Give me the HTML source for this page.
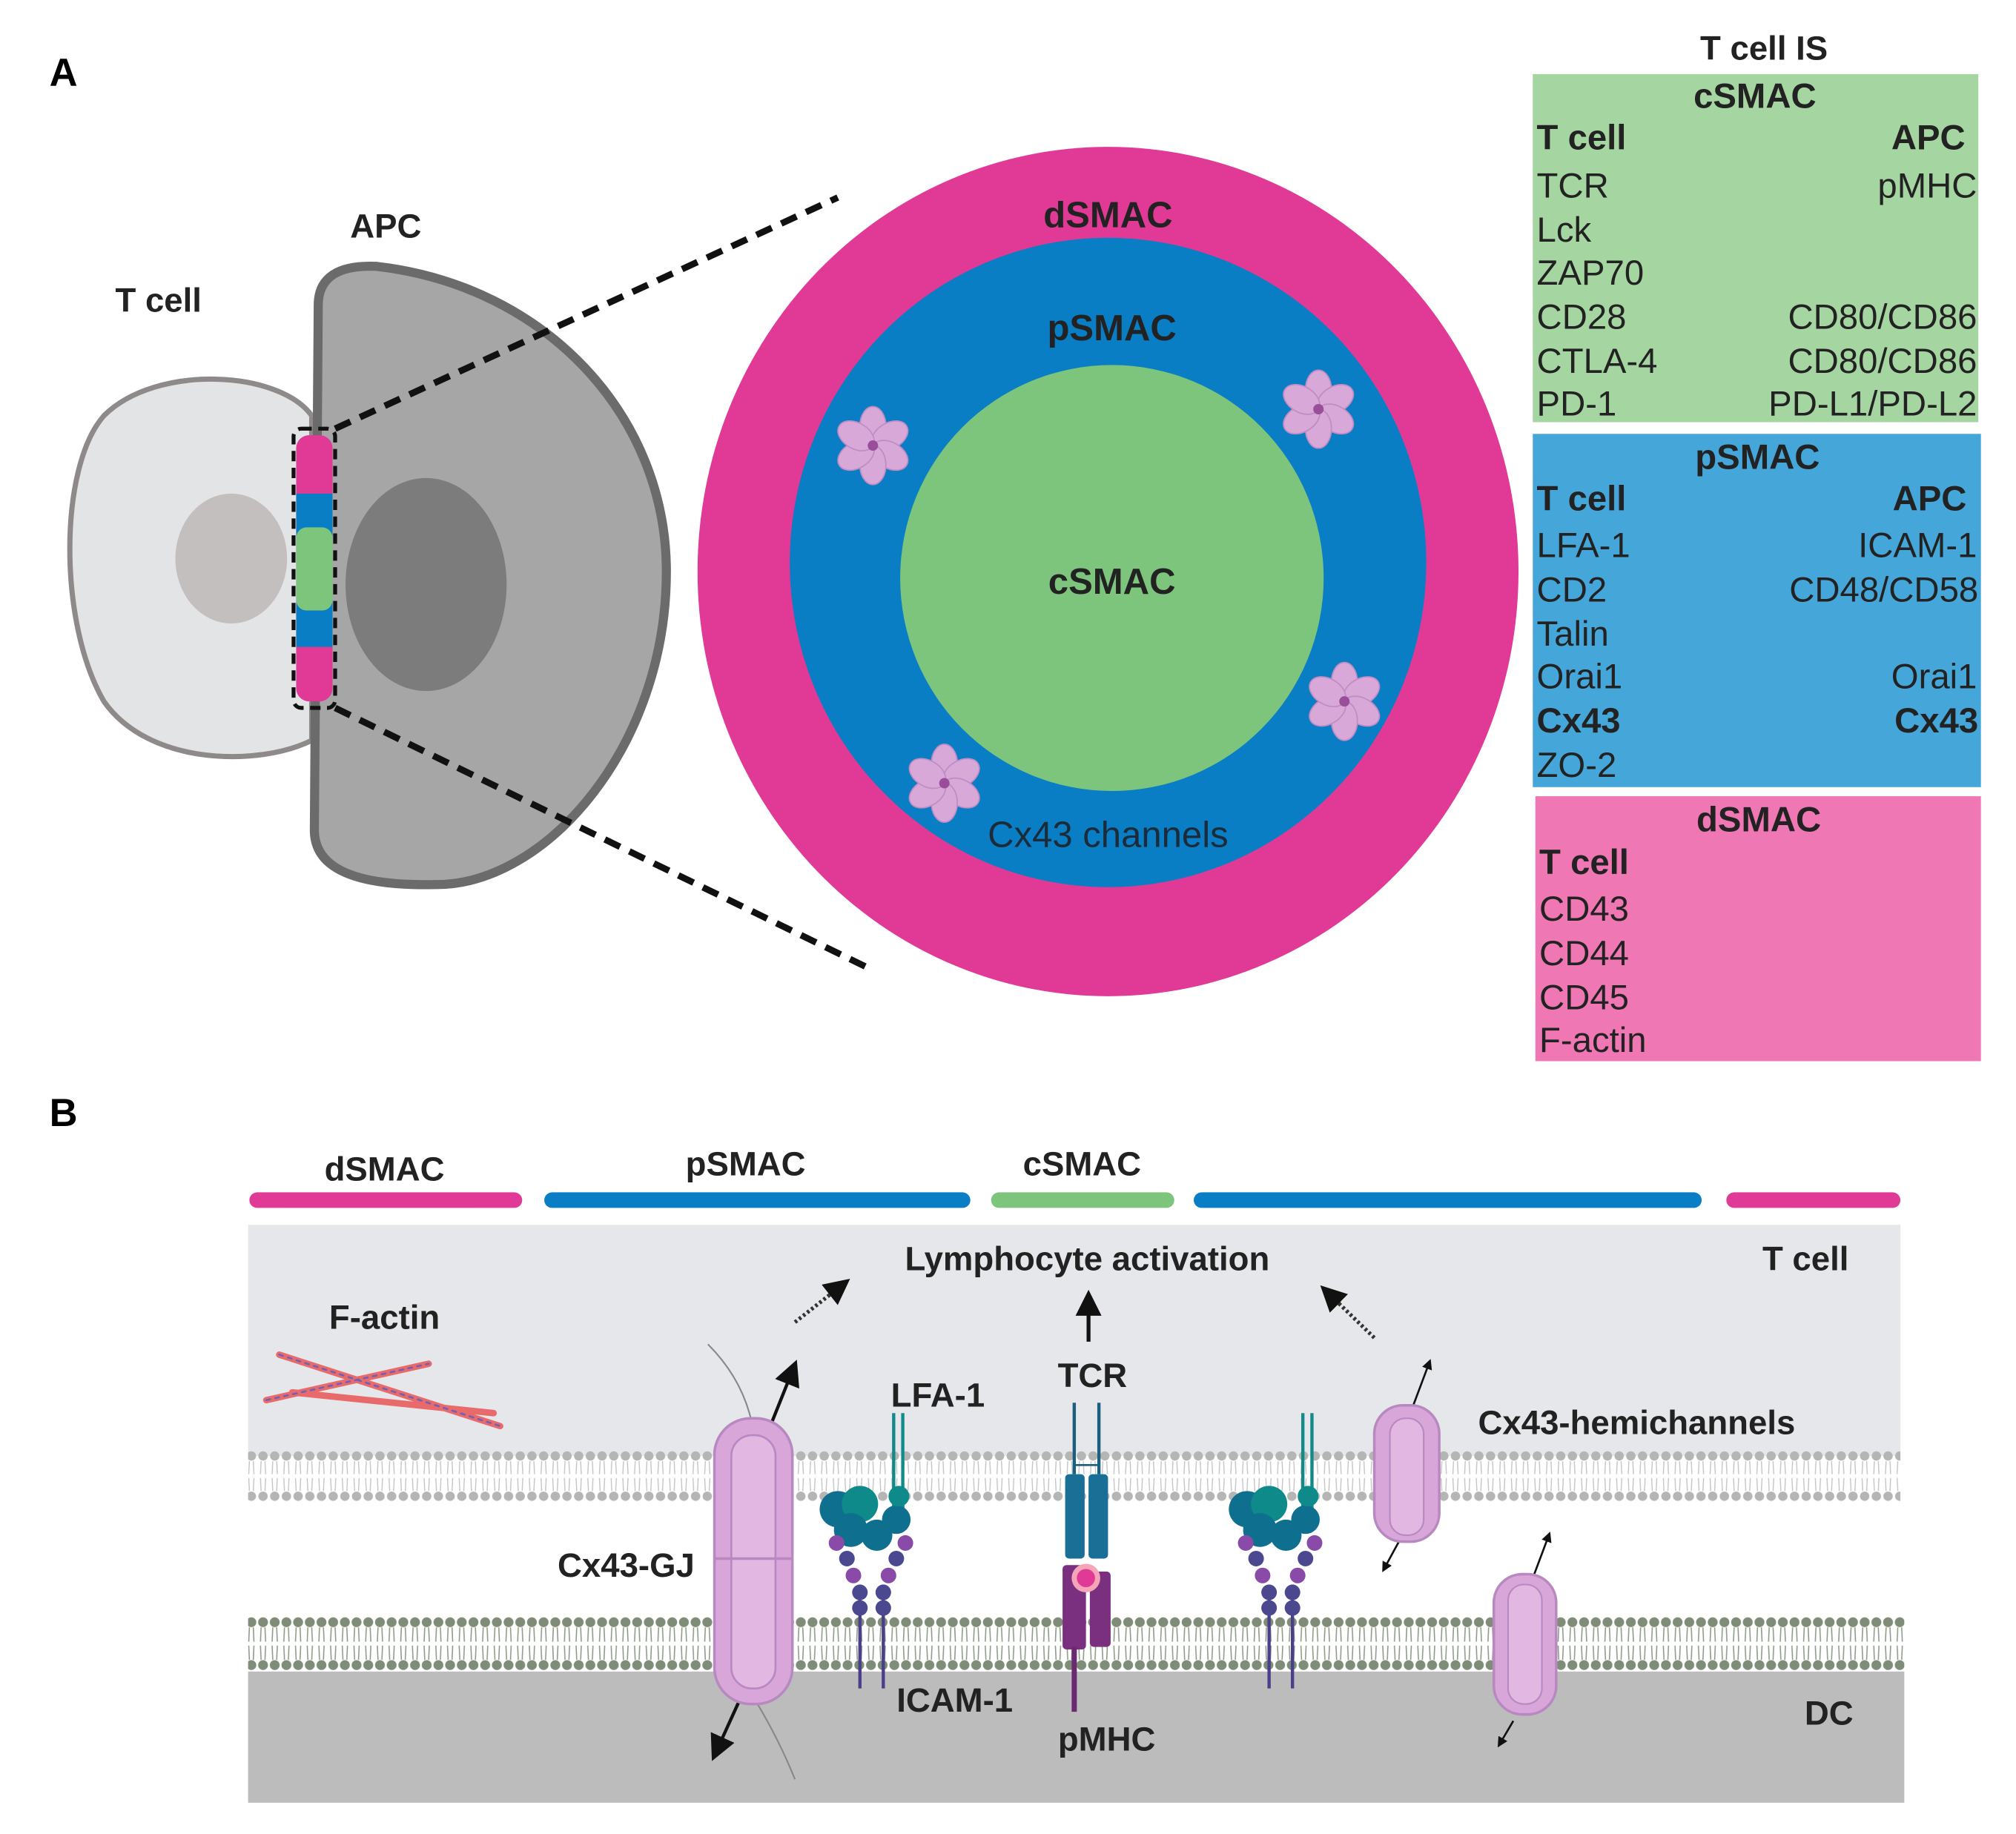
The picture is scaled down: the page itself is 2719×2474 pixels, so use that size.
<!DOCTYPE html>
<html><head><meta charset="utf-8"><style>
html,body{margin:0;padding:0;background:#fff;}
svg{display:block;}
text{font-family:"Liberation Sans",sans-serif;}
.b{font-weight:bold;}
</style></head><body>
<svg width="2719" height="2474" viewBox="0 0 1552 1412" xmlns="http://www.w3.org/2000/svg">
<defs>
<pattern id="memT" x="0" y="1117" width="9" height="40" patternUnits="userSpaceOnUse">
<circle cx="4.5" cy="4" r="3.6" fill="#b5b5b5"/>
<circle cx="4.5" cy="35" r="3.6" fill="#b5b5b5"/>
<path d="M3 8 L2.5 18 M6 8 L6.5 18 M3 31 L2.5 21 M6 31 L6.5 21" stroke="#c4c4c4" stroke-width="0.8" fill="none"/>
</pattern>
<pattern id="memD" x="0" y="1245" width="9" height="42" patternUnits="userSpaceOnUse">
<circle cx="4.5" cy="4" r="3.8" fill="#7f8d78"/>
<circle cx="4.5" cy="37" r="3.8" fill="#7f8d78"/>
<path d="M3 8 L2.5 19 M6 8 L6.5 19 M3 33 L2.5 22 M6 33 L6.5 22" stroke="#8e9a88" stroke-width="0.9" fill="none"/>
</pattern>
<g id="flower">
<g fill="#d8a8d8" stroke="#c08cc4" stroke-width="1">
<ellipse cx="0" cy="-15" rx="10" ry="15"/>
<ellipse cx="0" cy="-15" rx="10" ry="15" transform="rotate(60)"/>
<ellipse cx="0" cy="-15" rx="10" ry="15" transform="rotate(120)"/>
<ellipse cx="0" cy="-15" rx="10" ry="15" transform="rotate(180)"/>
<ellipse cx="0" cy="-15" rx="10" ry="15" transform="rotate(240)"/>
<ellipse cx="0" cy="-15" rx="10" ry="15" transform="rotate(300)"/>
</g>
<circle r="4" fill="#9a4e9a"/>
</g>
<marker id="ah" markerWidth="8" markerHeight="8" refX="4" refY="4" orient="auto" markerUnits="userSpaceOnUse"><path d="M0 0 L8 4 L0 8Z" fill="#111"/></marker>
<marker id="ahB" markerWidth="20" markerHeight="20" refX="8" refY="10" orient="auto" markerUnits="userSpaceOnUse"><path d="M0 0 L20 10 L0 20Z" fill="#111"/></marker>
</defs>

<!-- Part A -->
<text x="38" y="66" class="b" font-size="30">A</text>
<path d="M240,320 C215,285 120,280 80,320 C45,360 45,480 80,540 C115,590 200,590 240,570 Z" fill="#e3e4e5" stroke="#8f8a8a" stroke-width="4"/>
<ellipse cx="178" cy="430" rx="43" ry="50" fill="#c4bfbf"/>
<path d="M245,235 Q245,203 290,205 C420,220 513,320 513,440 C513,575 420,682 335,681 Q243,683 242,640 Z" fill="#a6a6a6" stroke="#6b6b6b" stroke-width="7"/>
<ellipse cx="328" cy="450" rx="62" ry="82" fill="#7c7c7c"/>
<rect x="228" y="335" width="28" height="205" rx="10" fill="#e03a96"/>
<rect x="228" y="380" width="28" height="118" fill="#0a7ec4"/>
<rect x="228" y="406" width="28" height="64" rx="8" fill="#7dc57c"/>
<rect x="226" y="330" width="32" height="215" rx="6" fill="none" stroke="#111" stroke-width="3" stroke-dasharray="8,5"/>
<line x1="258" y1="330" x2="645" y2="152" stroke="#111" stroke-width="5" stroke-dasharray="13,8"/>
<line x1="258" y1="545" x2="668" y2="745" stroke="#111" stroke-width="5" stroke-dasharray="13,8"/>
<text x="122" y="240" class="b" font-size="26" text-anchor="middle" fill="#222">T cell</text>
<text x="297" y="183" class="b" font-size="26" text-anchor="middle" fill="#222">APC</text>

<ellipse cx="853" cy="440" rx="316" ry="327" fill="#e03a96"/>
<ellipse cx="853" cy="433" rx="245" ry="250" fill="#0a7ec4"/>
<ellipse cx="856" cy="445" rx="163" ry="164" fill="#7dc57c"/>
<text x="853" y="175" class="b" font-size="28" text-anchor="middle" fill="#222">dSMAC</text>
<text x="856" y="262" class="b" font-size="28" text-anchor="middle" fill="#222">pSMAC</text>
<text x="856" y="457" class="b" font-size="28" text-anchor="middle" fill="#222">cSMAC</text>
<text x="853" y="652" font-size="28" text-anchor="middle" fill="#1b2b3a">Cx43 channels</text>
<use href="#flower" x="672" y="343"/>
<use href="#flower" x="1015" y="315"/>
<use href="#flower" x="1035" y="540"/>
<use href="#flower" x="727" y="603"/>

<text x="1358" y="46" class="b" font-size="26" text-anchor="middle" fill="#222">T cell IS</text>
<rect x="1180" y="57" width="343" height="268" fill="#a5d5a0"/>
<g font-size="27" fill="#222">
<text x="1351" y="83" class="b" text-anchor="middle">cSMAC</text>
<text x="1183" y="115" class="b">T cell</text><text x="1513" y="115" class="b" text-anchor="end">APC</text>
<text x="1183" y="152">TCR</text><text x="1522" y="152" text-anchor="end">pMHC</text>
<text x="1183" y="186">Lck</text>
<text x="1183" y="219">ZAP70</text>
<text x="1183" y="253">CD28</text><text x="1522" y="253" text-anchor="end">CD80/CD86</text>
<text x="1183" y="287">CTLA-4</text><text x="1522" y="287" text-anchor="end">CD80/CD86</text>
<text x="1183" y="320">PD-1</text><text x="1522" y="320" text-anchor="end">PD-L1/PD-L2</text>
</g>
<rect x="1180" y="334" width="345" height="272" fill="#45a6d9"/>
<g font-size="27" fill="#222">
<text x="1353" y="361" class="b" text-anchor="middle">pSMAC</text>
<text x="1183" y="393" class="b">T cell</text><text x="1514" y="393" class="b" text-anchor="end">APC</text>
<text x="1183" y="429">LFA-1</text><text x="1522" y="429" text-anchor="end">ICAM-1</text>
<text x="1183" y="463">CD2</text><text x="1523" y="463" text-anchor="end">CD48/CD58</text>
<text x="1183" y="497">Talin</text>
<text x="1183" y="530">Orai1</text><text x="1522" y="530" text-anchor="end">Orai1</text>
<text x="1183" y="564" class="b">Cx43</text><text x="1523" y="564" class="b" text-anchor="end">Cx43</text>
<text x="1183" y="598">ZO-2</text>
</g>
<rect x="1182" y="613" width="343" height="204" fill="#ef78b4"/>
<g font-size="27" fill="#222">
<text x="1354" y="640" class="b" text-anchor="middle">dSMAC</text>
<text x="1185" y="673" class="b">T cell</text>
<text x="1185" y="709">CD43</text>
<text x="1185" y="743">CD44</text>
<text x="1185" y="777">CD45</text>
<text x="1185" y="810">F-actin</text>
</g>

<!-- Part B -->
<text x="38" y="867" class="b" font-size="30">B</text>
<g stroke-width="12" stroke-linecap="round">
<line x1="198" y1="924" x2="396" y2="924" stroke="#e03a96"/>
<line x1="425" y1="924" x2="741" y2="924" stroke="#0a7ec4"/>
<line x1="769" y1="924" x2="898" y2="924" stroke="#7dc57c"/>
<line x1="925" y1="924" x2="1304" y2="924" stroke="#0a7ec4"/>
<line x1="1335" y1="924" x2="1457" y2="924" stroke="#e03a96"/>
</g>
<g class="b" font-size="26" fill="#222" text-anchor="middle">
<text x="296" y="909" class="b">dSMAC</text>
<text x="574" y="905" class="b">pSMAC</text>
<text x="833" y="905" class="b">cSMAC</text>
</g>
<rect x="191" y="943" width="1272" height="178" fill="#e5e7ea"/>
<rect x="191" y="1117" width="1272" height="40" fill="url(#memT)"/>
<rect x="191" y="1245" width="1275" height="42" fill="url(#memD)"/>
<rect x="191" y="1287" width="1275" height="101" fill="#bcbcbc"/>

<!-- F-actin -->
<g stroke-width="5" stroke-linecap="round">
<line x1="215" y1="1043" x2="385" y2="1098" stroke="#e86a6a"/>
<line x1="205" y1="1078" x2="330" y2="1050" stroke="#e86a6a"/>
<line x1="225" y1="1072" x2="380" y2="1088" stroke="#e86a6a"/>
<line x1="215" y1="1043" x2="385" y2="1098" stroke="#7060b8" stroke-width="1.5" stroke-dasharray="3,4"/>
<line x1="205" y1="1078" x2="330" y2="1050" stroke="#7060b8" stroke-width="1.5" stroke-dasharray="3,4"/>
</g>

<!-- arrows -->
<line x1="838" y1="1033" x2="838" y2="1005" stroke="#111" stroke-width="3" marker-end="url(#ahB)"/>
<line x1="612" y1="1018" x2="645" y2="992" stroke="#333" stroke-width="3" stroke-dasharray="2,2" marker-end="url(#ahB)"/>
<line x1="1058" y1="1030" x2="1025" y2="998" stroke="#333" stroke-width="3" stroke-dasharray="2,2" marker-end="url(#ahB)"/>
<line x1="593" y1="1098" x2="609" y2="1058" stroke="#111" stroke-width="2.5" marker-end="url(#ahB)"/>
<line x1="578" y1="1290" x2="553" y2="1345" stroke="#111" stroke-width="2.5" marker-end="url(#ahB)"/>
<line x1="1088" y1="1082" x2="1100" y2="1050" stroke="#111" stroke-width="1.5" marker-end="url(#ah)"/>
<line x1="1078" y1="1185" x2="1066" y2="1207" stroke="#111" stroke-width="1.5" marker-end="url(#ah)"/>
<line x1="1180" y1="1215" x2="1192" y2="1183" stroke="#111" stroke-width="1.5" marker-end="url(#ah)"/>
<line x1="1165" y1="1325" x2="1155" y2="1342" stroke="#111" stroke-width="1.5" marker-end="url(#ah)"/>
<path d="M545,1035 Q570,1060 578,1092 M582,1310 Q600,1340 612,1370" stroke="#888" stroke-width="1.2" fill="none"/>

<!-- Cx43-GJ -->
<rect x="550" y="1092" width="60" height="220" rx="28" fill="#d8a6d8" stroke="#b888c0" stroke-width="2"/>
<rect x="563" y="1105" width="34" height="195" rx="16" fill="#e2b8e2" stroke="#b888c0" stroke-width="1.5"/>
<line x1="550" y1="1200" x2="610" y2="1200" stroke="#b888c0" stroke-width="2"/>
<!-- hemichannels -->
<rect x="1058" y="1082" width="50" height="105" rx="22" fill="#d8a6d8" stroke="#b888c0" stroke-width="2"/>
<rect x="1070" y="1092" width="26" height="90" rx="12" fill="#e2b8e2" stroke="#b888c0" stroke-width="1.2"/>
<rect x="1150" y="1212" width="48" height="108" rx="22" fill="#d8a6d8" stroke="#b888c0" stroke-width="2"/>
<rect x="1161" y="1220" width="26" height="92" rx="12" fill="#e2b8e2" stroke="#b888c0" stroke-width="1.2"/>

<!-- LFA-1/ICAM-1 left -->
<g id="lfa">
<line x1="688" y1="1088" x2="688" y2="1170" stroke="#138a8a" stroke-width="2.5"/>
<line x1="695" y1="1088" x2="695" y2="1170" stroke="#138a8a" stroke-width="2.5"/>
<circle cx="645" cy="1162" r="14" fill="#0e6f8f"/><circle cx="662" cy="1158" r="14" fill="#0f8a8a"/>
<circle cx="655" cy="1178" r="13" fill="#0e6f8f"/><circle cx="675" cy="1182" r="12" fill="#0e6f8f"/>
<circle cx="690" cy="1170" r="11" fill="#0e6f8f"/><circle cx="692" cy="1152" r="8" fill="#0f8a8a"/>
<line x1="662" y1="1220" x2="662" y2="1300" stroke="#4a3f8a" stroke-width="2.5"/>
<line x1="680" y1="1220" x2="680" y2="1300" stroke="#4a3f8a" stroke-width="2.5"/>
<g fill="#8a4aa8"><circle cx="644" cy="1188" r="6"/><circle cx="697" cy="1188" r="6"/><circle cx="657" cy="1213" r="6"/><circle cx="684" cy="1213" r="6"/></g>
<g fill="#4b4890"><circle cx="652" cy="1200" r="6"/><circle cx="690" cy="1200" r="6"/><circle cx="662" cy="1226" r="6"/><circle cx="680" cy="1226" r="6"/><circle cx="662" cy="1238" r="6"/><circle cx="680" cy="1238" r="6"/></g>
</g>
<use href="#lfa" x="315" y="0"/>

<!-- TCR/pMHC -->
<line x1="827" y1="1080" x2="827" y2="1135" stroke="#1a5f7f" stroke-width="2.5"/>
<line x1="846" y1="1080" x2="846" y2="1135" stroke="#1a5f7f" stroke-width="2.5"/>
<line x1="827" y1="1128" x2="846" y2="1128" stroke="#1a5f7f" stroke-width="1.5"/>
<rect x="820" y="1135" width="15" height="65" rx="3" fill="#1a6f96"/>
<rect x="838" y="1135" width="15" height="65" rx="3" fill="#1a6f96"/>
<rect x="818" y="1205" width="18" height="65" rx="3" fill="#7a2f7f"/>
<rect x="839" y="1210" width="16" height="58" rx="3" fill="#7a2f7f"/>
<line x1="827" y1="1268" x2="827" y2="1318" stroke="#6a2a70" stroke-width="4"/>
<circle cx="836" cy="1215" r="11" fill="#f6a5b8"/><circle cx="836" cy="1215" r="7" fill="#e03a96"/>

<g class="b" font-size="26" fill="#222">
<text x="837" y="978" text-anchor="middle">Lymphocyte activation</text>
<text x="1390" y="978" text-anchor="middle">T cell</text>
<text x="296" y="1023" text-anchor="middle">F-actin</text>
<text x="722" y="1083" text-anchor="middle">LFA-1</text>
<text x="841" y="1068" text-anchor="middle">TCR</text>
<text x="1260" y="1104" text-anchor="middle">Cx43-hemichannels</text>
<text x="482" y="1214" text-anchor="middle">Cx43-GJ</text>
<text x="735" y="1318" text-anchor="middle">ICAM-1</text>
<text x="852" y="1348" text-anchor="middle">pMHC</text>
<text x="1408" y="1328" text-anchor="middle">DC</text>
</g>
</svg>
</body></html>
